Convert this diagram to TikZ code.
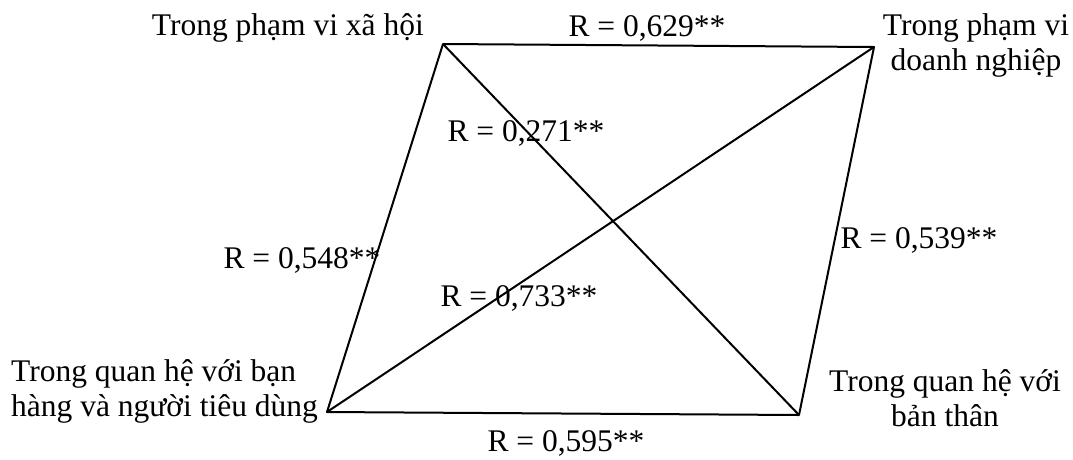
\documentclass[tikz,border=0pt]{standalone}
\usepackage{fontspec}
\setmainfont{Liberation Serif}
\begin{document}
\begin{tikzpicture}[x=1pt,y=-1pt,
  lbl/.style={font=\fontsize{31.5}{35}\selectfont, inner sep=0pt},
  edge/.style={line width=2pt, line join=round}]
\useasboundingbox (0,0) rectangle (1073,459);
\coordinate (tl) at (443,44);
\coordinate (tr) at (874,47);
\coordinate (bl) at (327,412);
\coordinate (br) at (799,415);
\draw[edge] (tl) -- (tr) -- (br) -- (bl) -- cycle;
\draw[edge] (tl) -- (br);
\draw[edge] (bl) -- (tr);
\node[lbl, anchor=east] (ntl) at (424,28) {Trong phạm vi xã hội};
\node[lbl, align=center] (ntr) at (976,45) {Trong phạm vi\\doanh nghiệp};
\node[lbl, align=left, anchor=west] (nbl) at (11,391) {Trong quan hệ với bạn\\hàng và người tiêu dùng};
\node[lbl, align=center] (nbr) at (945,398) {Trong quan hệ với\\bản thân};
\node[lbl] (r1) at (647,28) {R = 0,629**};
\node[lbl] (r2) at (526,133) {R = 0,271**};
\node[lbl] (r3) at (302,260) {R = 0,548**};
\node[lbl] (r4) at (919,240) {R = 0,539**};
\node[lbl] (r5) at (519,298) {R = 0,733**};
\node[lbl] (r6) at (566,443) {R = 0,595**};
\end{tikzpicture}
\end{document}
